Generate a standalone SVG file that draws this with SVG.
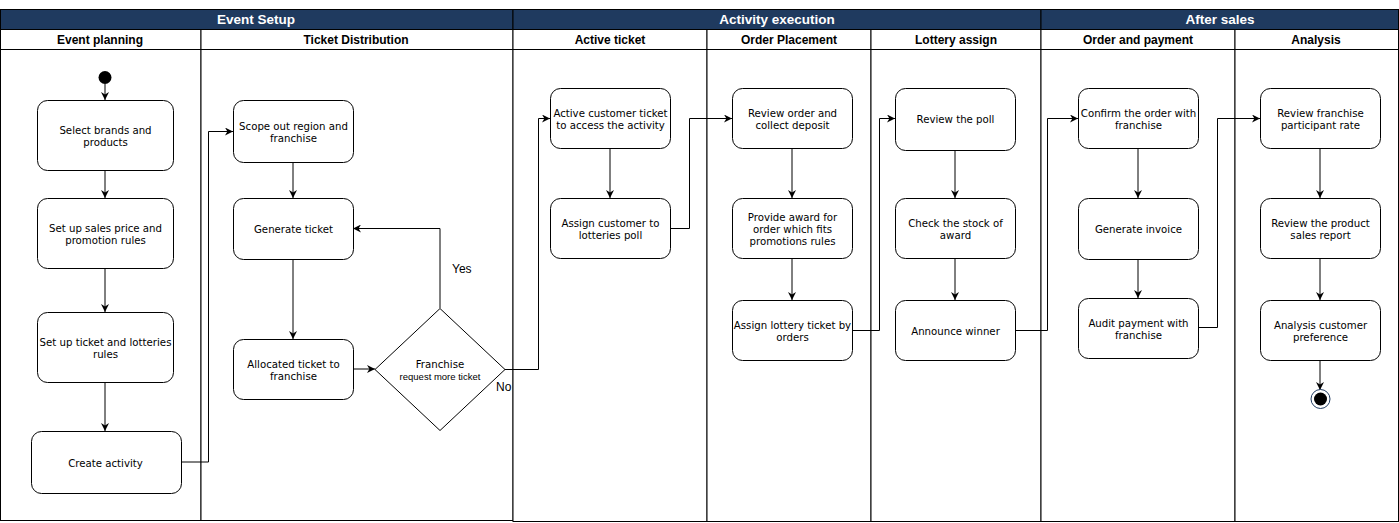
<svg xmlns="http://www.w3.org/2000/svg" width="1399" height="523" viewBox="0 0 1399 523">
<defs>
<style>
.band{fill:#1f3a5f;stroke:#000;stroke-width:1}
.bandt{font-family:"Liberation Sans",Arial,sans-serif;font-weight:bold;font-size:13.5px;fill:#fff;text-anchor:middle}
.lanehd{fill:#fff;stroke:#000;stroke-width:1}
.lanet{font-family:"Liberation Sans",Arial,sans-serif;font-weight:bold;font-size:12px;fill:#000;text-anchor:middle}
.lane{fill:#fff;stroke:#000;stroke-width:1}
.node{fill:#fff;stroke:#000;stroke-width:1}
.nt{font-family:"DejaVu Sans",Verdana,sans-serif;font-size:10.2px;fill:#000;text-anchor:middle}
.lbl{font-family:"Liberation Sans",Arial,sans-serif;font-size:12px;fill:#000}
.c{fill:none;stroke:#000;stroke-width:1}
</style>
<marker id="arr" viewBox="0 0 10 10" refX="10" refY="5" markerWidth="8" markerHeight="8" markerUnits="userSpaceOnUse" orient="auto">
<path d="M0,0 L10,5 L0,10 L3,5 Z" fill="#000"/>
</marker>
</defs>
<rect width="1399" height="523" fill="#fff"/>

<g id="lanes">
<rect class="band" x="0.5" y="9.5" width="512.5" height="20"/>
<rect class="band" x="513" y="9.5" width="528" height="20"/>
<rect class="band" x="1041" y="9.5" width="357.5" height="20"/>
<text class="bandt" x="256" y="24">Event Setup</text>
<text class="bandt" x="777" y="24">Activity execution</text>
<text class="bandt" x="1220" y="24">After sales</text>

<rect class="lanehd" x="0.5" y="29.5" width="200.5" height="20"/>
<rect class="lanehd" x="201" y="29.5" width="312" height="20"/>
<rect class="lanehd" x="513" y="29.5" width="194" height="20"/>
<rect class="lanehd" x="707" y="29.5" width="164" height="20"/>
<rect class="lanehd" x="871" y="29.5" width="170" height="20"/>
<rect class="lanehd" x="1041" y="29.5" width="194" height="20"/>
<rect class="lanehd" x="1235" y="29.5" width="163.5" height="20"/>
<text class="lanet" x="100" y="43.5">Event planning</text>
<text class="lanet" x="356" y="43.5">Ticket Distribution</text>
<text class="lanet" x="610" y="43.5">Active ticket</text>
<text class="lanet" x="789" y="43.5">Order Placement</text>
<text class="lanet" x="956" y="43.5">Lottery assign</text>
<text class="lanet" x="1138" y="43.5">Order and payment</text>
<text class="lanet" x="1316" y="43.5">Analysis</text>

<rect class="lane" x="0.5" y="49.5" width="200.5" height="471"/>
<rect class="lane" x="201" y="49.5" width="312" height="471"/>
<rect class="lane" x="513" y="49.5" width="194" height="472"/>
<rect class="lane" x="707" y="49.5" width="164" height="472"/>
<rect class="lane" x="871" y="49.5" width="170" height="472"/>
<rect class="lane" x="1041" y="49.5" width="194" height="472"/>
<rect class="lane" x="1235" y="49.5" width="163.5" height="472"/>
</g>

<g id="connectors">
<path class="c" d="M105,84 V100" marker-end="url(#arr)"/>
<path class="c" d="M105,170 V198" marker-end="url(#arr)"/>
<path class="c" d="M105,268 V312" marker-end="url(#arr)"/>
<path class="c" d="M105,382 V431" marker-end="url(#arr)"/>
<path class="c" d="M181,462 H208.5 V131.5 H233" marker-end="url(#arr)"/>
<path class="c" d="M293,162 V198" marker-end="url(#arr)"/>
<path class="c" d="M293,259 V339" marker-end="url(#arr)"/>
<path class="c" d="M353,369 H375" marker-end="url(#arr)"/>
<path class="c" d="M440,308 V228.5 H353" marker-end="url(#arr)" stroke="#777"/>
<path class="c" d="M505,369.5 H538.5 V118.5 H550" marker-end="url(#arr)"/>
<path class="c" d="M610,148 V198" marker-end="url(#arr)"/>
<path class="c" d="M670,228.5 H689.5 V118.5 H732" marker-end="url(#arr)"/>
<path class="c" d="M792,148 V198" marker-end="url(#arr)"/>
<path class="c" d="M792,258 V300" marker-end="url(#arr)"/>
<path class="c" d="M852,330.5 H879.5 V118.5 H895" marker-end="url(#arr)"/>
<path class="c" d="M955,150 V198" marker-end="url(#arr)"/>
<path class="c" d="M955,258 V300" marker-end="url(#arr)"/>
<path class="c" d="M1015,330.5 H1047.5 V118.5 H1078" marker-end="url(#arr)"/>
<path class="c" d="M1138,148 V198" marker-end="url(#arr)"/>
<path class="c" d="M1138,260 V298" marker-end="url(#arr)"/>
<path class="c" d="M1198,327.5 H1217.5 V118.5 H1260" marker-end="url(#arr)"/>
<path class="c" d="M1320,148 V198" marker-end="url(#arr)"/>
<path class="c" d="M1320,258 V300" marker-end="url(#arr)"/>
<path class="c" d="M1320,360 V390" marker-end="url(#arr)"/>
<text class="lbl" x="452" y="273">Yes</text>
<text class="lbl" x="496" y="391">No</text>
</g>

<g id="start"><circle cx="105" cy="77.5" r="6.5" fill="#000"/></g>

<g id="n1"><rect class="node" x="37.5" y="100.5" width="136" height="70" rx="10"/>
<text class="nt" x="105.5" y="134">Select brands and</text><text class="nt" x="105.5" y="146">products</text></g>
<g id="n2"><rect class="node" x="37.5" y="198.5" width="136" height="70" rx="10"/>
<text class="nt" x="105.5" y="232">Set up sales price and</text><text class="nt" x="105.5" y="244">promotion rules</text></g>
<g id="n3"><rect class="node" x="37.5" y="312.5" width="136" height="70" rx="10"/>
<text class="nt" x="105.5" y="346">Set up ticket and lotteries</text><text class="nt" x="105.5" y="358">rules</text></g>
<g id="n4"><rect class="node" x="31.5" y="431.5" width="150" height="62" rx="10"/>
<text class="nt" x="105.5" y="467">Create activity</text></g>

<g id="n5"><rect class="node" x="233.5" y="100.5" width="120" height="62" rx="10"/>
<text class="nt" x="293.5" y="130">Scope out region and</text><text class="nt" x="293.5" y="142">franchise</text></g>
<g id="n6"><rect class="node" x="233.5" y="198.5" width="120" height="61" rx="10"/>
<text class="nt" x="293.5" y="233">Generate ticket</text></g>
<g id="n7"><rect class="node" x="233.5" y="339.5" width="120" height="60" rx="10"/>
<text class="nt" x="293.5" y="368">Allocated ticket to</text><text class="nt" x="293.5" y="380">franchise</text></g>
<g id="d1"><path class="node" d="M440,308.5 L505,369.5 L440,430.5 L375,369.5 Z"/>
<text class="nt" x="440" y="368">Franchise</text>
<text x="440" y="380" font-family="'Liberation Sans',Arial,sans-serif" font-size="9.5" text-anchor="middle">request more ticket</text></g>

<g id="n8"><rect class="node" x="550.5" y="88.5" width="120" height="60" rx="10"/>
<text class="nt" x="610.5" y="117">Active customer ticket</text><text class="nt" x="610.5" y="129">to access the activity</text></g>
<g id="n9"><rect class="node" x="550.5" y="198.5" width="120" height="60" rx="10"/>
<text class="nt" x="610.5" y="227">Assign customer to</text><text class="nt" x="610.5" y="239">lotteries poll</text></g>

<g id="n10"><rect class="node" x="732.5" y="88.5" width="120" height="60" rx="10"/>
<text class="nt" x="792.5" y="117">Review order and</text><text class="nt" x="792.5" y="129">collect deposit</text></g>
<g id="n11"><rect class="node" x="732.5" y="198.5" width="120" height="60" rx="10"/>
<text class="nt" x="792.5" y="221">Provide award for</text><text class="nt" x="792.5" y="233">order which fits</text><text class="nt" x="792.5" y="245">promotions rules</text></g>
<g id="n12"><rect class="node" x="732.5" y="300.5" width="120" height="60" rx="10"/>
<text class="nt" x="792.5" y="329">Assign lottery ticket by</text><text class="nt" x="792.5" y="341">orders</text></g>

<g id="n13"><rect class="node" x="895.5" y="88.5" width="120" height="62" rx="10"/>
<text class="nt" x="955.5" y="123">Review the poll</text></g>
<g id="n14"><rect class="node" x="895.5" y="198.5" width="120" height="60" rx="10"/>
<text class="nt" x="955.5" y="227">Check the stock of</text><text class="nt" x="955.5" y="239">award</text></g>
<g id="n15"><rect class="node" x="895.5" y="300.5" width="120" height="60" rx="10"/>
<text class="nt" x="955.5" y="335">Announce winner</text></g>

<g id="n16"><rect class="node" x="1078.5" y="88.5" width="120" height="60" rx="10"/>
<text class="nt" x="1138.5" y="117">Confirm the order with</text><text class="nt" x="1138.5" y="129">franchise</text></g>
<g id="n17"><rect class="node" x="1078.5" y="198.5" width="120" height="61" rx="10"/>
<text class="nt" x="1138.5" y="233">Generate invoice</text></g>
<g id="n18"><rect class="node" x="1078.5" y="298.5" width="120" height="60" rx="10"/>
<text class="nt" x="1138.5" y="327">Audit payment with</text><text class="nt" x="1138.5" y="339">franchise</text></g>

<g id="n19"><rect class="node" x="1260.5" y="88.5" width="120" height="60" rx="10"/>
<text class="nt" x="1320.5" y="117">Review franchise</text><text class="nt" x="1320.5" y="129">participant rate</text></g>
<g id="n20"><rect class="node" x="1260.5" y="198.5" width="120" height="60" rx="10"/>
<text class="nt" x="1320.5" y="227">Review the product</text><text class="nt" x="1320.5" y="239">sales report</text></g>
<g id="n21"><rect class="node" x="1260.5" y="300.5" width="120" height="60" rx="10"/>
<text class="nt" x="1320.5" y="329">Analysis customer</text><text class="nt" x="1320.5" y="341">preference</text></g>

<g id="end"><circle cx="1320.5" cy="399" r="9.5" fill="#fff" stroke="#1f3a5f" stroke-width="1"/><circle cx="1320.5" cy="399" r="6.5" fill="#000"/></g>
</svg>
